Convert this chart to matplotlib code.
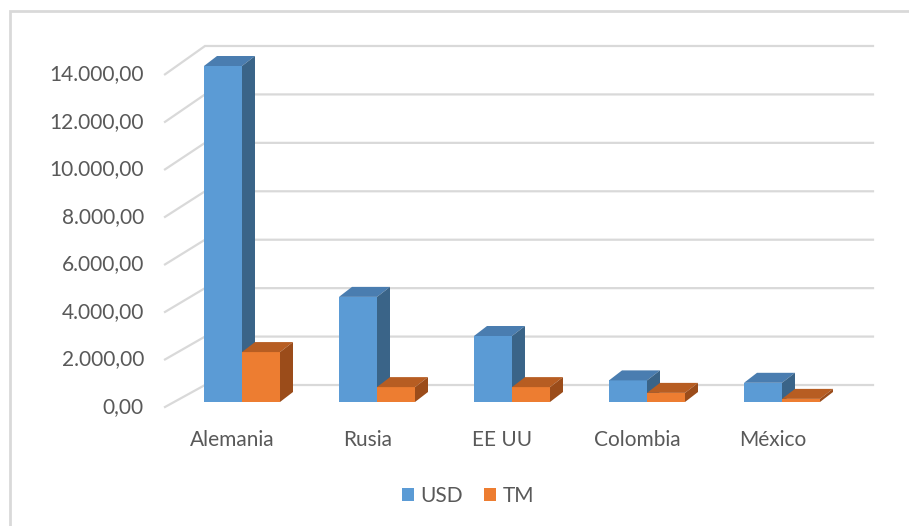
import matplotlib.pyplot as plt
from matplotlib.patches import Polygon, Rectangle, Patch

# data
categories = ["Alemania", "Rusia", "EE UU", "Colombia", "México"]
usd = [14000, 4380, 2750, 900, 800]
tm = [2080, 620, 620, 380, 130]
ticks = [0, 2000, 4000, 6000, 8000, 10000, 12000, 14000]
tick_labels = ["0,00", "2.000,00", "4.000,00", "6.000,00", "8.000,00",
               "10.000,00", "12.000,00", "14.000,00"]

plt.rcParams['font.family'] = ['Lato', 'DejaVu Sans']

# layout (pixels -> data)
PX_CAT = 135.0          # pixels per category
PX_VAL = 336.0 / 14000  # pixels per value unit
X0, Y0 = 242.0, 402.0   # pixel of first group centre / bar base


def fx(p):
    return (p - X0) / PX_CAT


def fy(p):
    return (Y0 - p) / PX_VAL


fig = plt.figure(figsize=(9.09, 5.26), dpi=100)
ax = fig.add_axes([0, 0, 1, 1])
ax.set_xlim(fx(0), fx(909))
ax.set_ylim(fy(526), fy(0))
ax.axis('off')

grid_c = '#d9d9d9'
txt_c = '#595959'
fs = 15

# wall gridlines (back wall + floor diagonal)
x_front, x_back, x_end = fx(165), fx(205), fx(873)
for v, lab in zip(ticks, tick_labels):
    yf = v * 0.99 - 208
    yb = v * 1.009 + 708
    ax.plot([x_front, x_back, x_end], [yf, yb, yb], color=grid_c, lw=1.6,
            solid_joinstyle='miter', zorder=1)
    ax.text(fx(144), yf, lab, ha='right', va='center', fontsize=fs, color=txt_c)

# 3D-ish bars
bw = 38 / PX_CAT
ddx = 13 / PX_CAT
ddy = 10 / PX_VAL
series = [
    (usd, -bw, '#5b9bd5', '#4a7db0', '#3a6488'),
    (tm, 0.0, '#ed7d31', '#b75d22', '#9b4c1a'),
]
z = 2
for i in range(len(categories)):
    for vals, off, c_front, c_top, c_side in series:
        x0 = i + off
        x1 = x0 + bw
        h = vals[i]
        ax.add_patch(Rectangle((x0, 0), bw, h, facecolor=c_front, zorder=z))
        ax.add_patch(Polygon([(x0, h), (x1, h), (x1 + ddx, h + ddy), (x0 + ddx, h + ddy)],
                             facecolor=c_top, zorder=z))
        ax.add_patch(Polygon([(x1, 0), (x1 + ddx, ddy), (x1 + ddx, h + ddy), (x1, h)],
                             facecolor=c_side, zorder=z))
        z += 1
    ax.text(i - 0.07, fy(440), categories[i], ha='center', va='center',
            fontsize=fs, color=txt_c)

# legend
handles = [Patch(facecolor='#5b9bd5', label='USD'), Patch(facecolor='#ed7d31', label='TM')]
fig.legend(handles=handles, loc='center', bbox_to_anchor=(468 / 909, 1 - 496 / 526),
           ncol=2, frameon=False, fontsize=fs, labelcolor=txt_c,
           handlelength=0.6, handleheight=0.6, handletextpad=0.3, columnspacing=1.0)

# chart border
fig.patches.append(Rectangle((10 / 909, -0.01), 1.0, 1 - 10.5 / 526 + 0.01,
                             transform=fig.transFigure, fill=False,
                             edgecolor='#d9d9d9', lw=2))

fig.savefig('out.png', dpi=100)
